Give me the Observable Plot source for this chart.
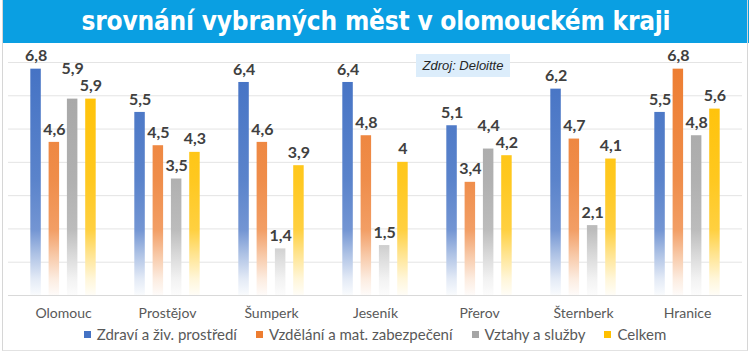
<!DOCTYPE html>
<html>
<head>
<meta charset="utf-8">
<script src="https://cdn.jsdelivr.net/npm/d3@7"></script>
<script src="https://cdn.jsdelivr.net/npm/@observablehq/plot@0.6"></script>
<style>
  html, body { margin: 0; padding: 0; background: #fff; }
  #wrap { position: relative; width: 750px; height: 355px; overflow: hidden; font-family: Lato, "Open Sans", sans-serif; }
  #frame { position: absolute; left: 2px; top: 0; width: 744px; height: 350px; border-left: 1px solid #d6d6d6; border-right: 1px solid #d6d6d6; border-bottom: 1px solid #e2e2e2; pointer-events: none; }
  #title { position: absolute; left: 3px; top: 0; width: 746px; height: 43px; background: #0a9fe2; color: #fff;
           font-family: "DejaVu Sans Condensed", "DejaVu Sans", sans-serif; font-weight: bold; font-size: 26px;
           line-height: 43px; text-align: center; letter-spacing: -0.2px; }
  #chart { position: absolute; left: 0; top: 43px; }
  #source { position: absolute; left: 416px; top: 54px; width: 94px; height: 23px; background: #dcedfb;
            font-family: "Liberation Sans", Arial, sans-serif; font-style: italic; font-size: 13px; color: #262626;
            line-height: 23px; text-align: center; }
  #legend { position: absolute; left: 0; top: 323px; width: 750px; height: 22px; display: flex; justify-content: center; align-items: center;
            font-family: Lato, sans-serif; font-size: 15px; color: #595959; }
  .item { display: flex; align-items: center; margin: 0 9.5px; }
  .sw { width: 7px; height: 7px; margin-right: 6px; }
</style>
</head>
<body>
<div id="wrap">
  <div id="title"></div>
  <div id="chart"></div>
  <div id="source"></div>
  <div id="legend"></div>
  <div id="frame"></div>
</div>
<script>
const titleText = "srovnání vybraných měst v olomouckém kraji";
const sourceText = "Zdroj: Deloitte";
const cities = ["Olomouc", "Prostějov", "Šumperk", "Jeseník", "Přerov", "Šternberk", "Hranice"];
const seriesNames = ["Zdraví a živ. prostředí", "Vzdělání a mat. zabezpečení", "Vztahy a služby", "Celkem"];
const seriesColors = ["#4472c4", "#ed7d31", "#a5a5a5", "#ffc000"];
const zdravi  = [6.8, 5.5, 6.4, 6.4, 5.1, 6.2, 5.5];
const vzdelani = [4.6, 4.5, 4.6, 4.8, 3.4, 4.7, 6.8];
const vztahy  = [5.9, 3.5, 1.4, 1.5, 4.4, 2.1, 4.8];
const celkem  = [5.9, 4.3, 3.9, 4.0, 4.2, 4.1, 5.6];
const seriesValues = [zdravi, vzdelani, vztahy, celkem];

document.getElementById("title").textContent = titleText;
document.getElementById("source").textContent = sourceText;

// layout
const W = 750, H = 280, mL = 8, mR = 8, mT = 19, mB = 28;
const pIn = 0.232, pOut = 0.117;
const step = (W - mL - mR) / (cities.length - pIn + 2 * pOut);
const bw = step * (1 - pIn);
const barW = 11, barStep = 18.3;
const groupW = barStep * (seriesNames.length - 1) + barW;
const off0 = (bw - groupW) / 2;
const kPx = (H - mT - mB) / 7; // px per unit

// table
const rows = [];
seriesNames.forEach((s, i) => cities.forEach((c, j) => rows.push({city: c, series: s, si: i, value: seriesValues[i][j]})));

// label positions with simple collision avoidance (right to left within a group)
const labelY = {};
cities.forEach((c, j) => {
  let prev = null;
  for (let i = seriesNames.length - 1; i >= 0; i--) {
    let yPx = -seriesValues[i][j] * kPx - 13;
    if (prev !== null && Math.abs(yPx - prev) < 16) yPx = prev - 17;
    labelY[c + "|" + i] = yPx;
    prev = yPx;
  }
});
rows.forEach(r => { r.labelValue = -(labelY[r.city + "|" + r.si]) / kPx; });

const marks = [
  Plot.ruleY(d3.range(1, 8), {stroke: "#e4e4e4", strokeWidth: 1}),
  Plot.ruleY([0], {stroke: "#d9d9d9", strokeWidth: 1})
];
seriesNames.forEach((s, i) => {
  const left = off0 + i * barStep;
  const data = rows.filter(r => r.si === i);
  marks.push(Plot.barY(data, {x: "city", y: "value", fill: `url(#grad${i})`,
    insetLeft: left, insetRight: bw - left - barW}));
  marks.push(Plot.text(data, {x: "city", y: "labelValue", text: d => String(d.value).replace(".", ","),
    dx: left + barW / 2 - bw / 2, fill: "#404040", fontWeight: "bold", fontSize: 16, fontFamily: "Lato"}));
});
marks.push(Plot.axisX({tickSize: 0, tickPadding: 13, fontSize: 14, color: "#595959", fontFamily: "Lato"}));

const chart = Plot.plot({
  width: W, height: H, marginLeft: mL, marginRight: mR, marginTop: mT, marginBottom: mB,
  style: {fontFamily: "Lato, sans-serif", background: "transparent", overflow: "visible"},
  x: {domain: cities, paddingInner: pIn, paddingOuter: pOut, label: null, axis: null},
  y: {domain: [0, 7], axis: null},
  marks
});

// gradients (userSpaceOnUse so the fade sits at the same height for every bar)
const ys = chart.scale("y");
const yTop = ys.apply(7), yBot = ys.apply(0);
const ns = "http://www.w3.org/2000/svg";
const defs = document.createElementNS(ns, "defs");
function mix(c, t) { return d3.interpolateRgb(c, "#ffffff")(t); }
seriesColors.forEach((c, i) => {
  const g = document.createElementNS(ns, "linearGradient");
  g.setAttribute("id", "grad" + i);
  g.setAttribute("gradientUnits", "userSpaceOnUse");
  g.setAttribute("x1", 0); g.setAttribute("x2", 0);
  g.setAttribute("y1", yTop); g.setAttribute("y2", yBot);
  [[0, 0], [0.5, 0.12], [0.72, 0.25], [0.82, 0.55], [0.93, 0.85], [1, 0.97]].forEach(([o, t]) => {
    const st = document.createElementNS(ns, "stop");
    st.setAttribute("offset", o);
    st.setAttribute("stop-color", mix(c, t));
    g.appendChild(st);
  });
  defs.appendChild(g);
});
chart.insertBefore(defs, chart.firstChild);
document.getElementById("chart").appendChild(chart);

// legend
const leg = document.getElementById("legend");
seriesNames.forEach((s, i) => {
  const it = document.createElement("div"); it.className = "item";
  const sw = document.createElement("div"); sw.className = "sw"; sw.style.background = seriesColors[i];
  const tx = document.createElement("span"); tx.textContent = s;
  it.appendChild(sw); it.appendChild(tx); leg.appendChild(it);
});
</script>
</body>
</html>
